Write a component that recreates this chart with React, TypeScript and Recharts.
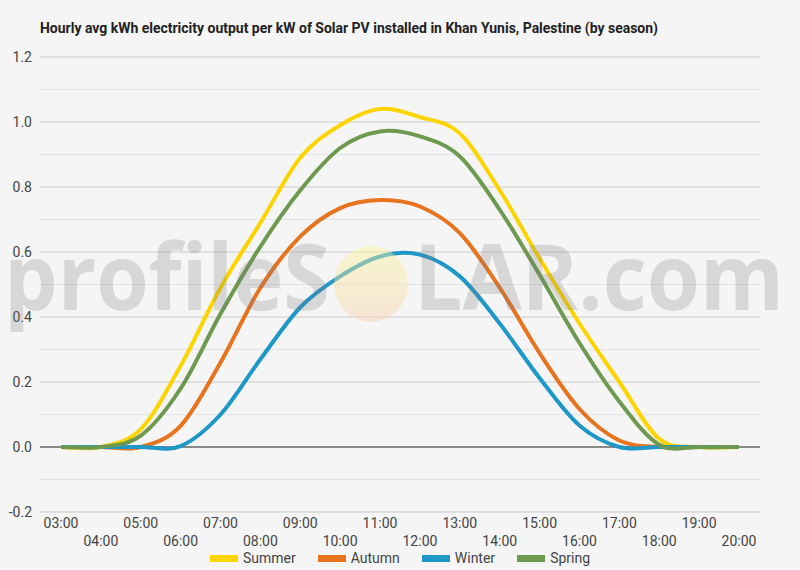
import React from "react";
import { CartesianGrid, Line, LineChart, XAxis, YAxis } from "recharts";

const hours = [
  "03:00", "04:00", "05:00", "06:00", "07:00", "08:00", "09:00", "10:00", "11:00",
  "12:00", "13:00", "14:00", "15:00", "16:00", "17:00", "18:00", "19:00", "20:00",
];

const summer = [0, 0, 0.055, 0.25, 0.49, 0.69, 0.89, 0.99, 1.04, 1.015, 0.965, 0.79, 0.58, 0.38, 0.2, 0.025, 0, 0];
const autumn = [0, 0, 0, 0.065, 0.26, 0.49, 0.648, 0.735, 0.76, 0.74, 0.658, 0.49, 0.289, 0.117, 0.02, 0, 0, 0];
const winter = [0, 0, 0, 0.003, 0.1, 0.27, 0.43, 0.525, 0.586, 0.592, 0.525, 0.38, 0.212, 0.066, 0, 0, 0, 0];
const spring = [0, 0, 0.035, 0.18, 0.41, 0.617, 0.79, 0.92, 0.971, 0.956, 0.894, 0.73, 0.53, 0.32, 0.14, 0.007, 0, 0];

const yTicks = [-0.2, 0, 0.2, 0.4, 0.6, 0.8, 1.0, 1.2];
const minorGrid = [-0.1, 0.1, 0.3, 0.5, 0.7, 0.9, 1.1];

const seriesList = [
  { key: "summer", name: "Summer", color: "#fdd400" },
  { key: "autumn", name: "Autumn", color: "#e8731f" },
  { key: "winter", name: "Winter", color: "#1f97c7" },
  { key: "spring", name: "Spring", color: "#6e9a50" },
];

const chartData = hours.map((hour, i) => ({
  hour,
  summer: summer[i],
  autumn: autumn[i],
  winter: winter[i],
  spring: spring[i],
}));

// smooth like the source chart: uniform catmull-rom, overshoots a little near zero
const catmullRom = (context: any) => {
  let pts: [number, number][] = [];
  return {
    areaStart() {},
    areaEnd() {},
    lineStart() {
      pts = [];
    },
    point(x: number, y: number) {
      pts.push([+x, +y]);
    },
    lineEnd() {
      const n = pts.length;
      if (!n) return;
      context.moveTo(pts[0][0], pts[0][1]);
      for (let i = 0; i < n - 1; i++) {
        const p0 = pts[Math.max(i - 1, 0)];
        const p1 = pts[i];
        const p2 = pts[i + 1];
        const p3 = pts[Math.min(i + 2, n - 1)];
        context.bezierCurveTo(
          p1[0] + (p2[0] - p0[0]) / 6,
          p1[1] + (p2[1] - p0[1]) / 6,
          p2[0] - (p3[0] - p1[0]) / 6,
          p2[1] - (p3[1] - p1[1]) / 6,
          p2[0],
          p2[1],
        );
      }
    },
  };
};

function HourTick(props: any) {
  const { x, y, payload, index } = props;
  const dy = index % 2 === 0 ? 15.5 : 34;
  return (
    <text x={x} y={y + dy} textAnchor="middle" fill="#444" fontSize={14} fontFamily="Roboto">
      {payload.value}
    </text>
  );
}

export default function App() {
  return (
    <div
      style={{
        position: "absolute",
        left: 0,
        top: 0,
        width: 800,
        height: 570,
        background: "#f5f5f5",
        fontFamily: "Roboto",
        overflow: "hidden",
      }}
    >
      <LineChart width={800} height={570} data={chartData} margin={{ top: 57, right: 40, bottom: 10, left: 0 }}>
        <CartesianGrid vertical={false} horizontalValues={minorGrid} stroke="#e4e4e4" fill="none" />
        <CartesianGrid vertical={false} stroke="#cbcbcb" fill="none" />
        <CartesianGrid vertical={false} horizontalValues={[0]} stroke="#333" fill="none" />
        <XAxis
          dataKey="hour"
          interval={0}
          axisLine={false}
          tickLine={false}
          tickSize={0}
          tickMargin={0}
          height={48}
          padding={{ left: 21, right: 21 }}
          tick={<HourTick />}
        />
        <YAxis
          domain={[-0.2, 1.2]}
          ticks={yTicks}
          width={40}
          axisLine={false}
          tickLine={false}
          tickSize={0}
          tickMargin={8}
          tick={{ fill: "#444", fontSize: 14, fontFamily: "Roboto" }}
          tickFormatter={(v: number) => v.toFixed(1)}
        />
        {seriesList.map((s) => (
          <Line
            key={s.key}
            dataKey={s.key}
            name={s.name}
            type={catmullRom as any}
            stroke={s.color}
            strokeWidth={4}
            dot={false}
            activeDot={false}
            isAnimationActive={false}
          />
        ))}
      </LineChart>

      <svg
        width={800}
        height={570}
        style={{ position: "absolute", left: 0, top: 0, pointerEvents: "none" }}
      >
        <defs>
          <linearGradient id="sunFill" x1="0" x2="0" y1="0" y2="1">
            <stop offset="0%" stopColor="#fbf59a" stopOpacity={0.45} />
            <stop offset="100%" stopColor="#f6cfae" stopOpacity={0.45} />
          </linearGradient>
        </defs>
        <text
          x={40}
          y={33}
          fontFamily="Roboto"
          fontWeight={700}
          fontSize={14.5}
          fill="#222"
          textLength={618}
          lengthAdjust="spacingAndGlyphs"
        >
          Hourly avg kWh electricity output per kW of Solar PV installed in Khan Yunis, Palestine (by season)
        </text>
        <text
          x={4}
          y={310}
          fontFamily="Open Sans"
          fontWeight={700}
          fontSize={92}
          fill="rgba(120,120,120,0.24)"
          textLength={326}
          lengthAdjust="spacingAndGlyphs"
        >
          profileS
        </text>
        <ellipse cx={371} cy={284} rx={37} ry={38} fill="url(#sunFill)" />
        <text
          x={414}
          y={310}
          fontFamily="Open Sans"
          fontWeight={700}
          fontSize={92}
          fill="rgba(120,120,120,0.24)"
          textLength={370}
          lengthAdjust="spacingAndGlyphs"
        >
          LAR.com
        </text>
      </svg>

      <div
        style={{
          position: "absolute",
          left: 0,
          top: 549,
          width: 800,
          display: "flex",
          justifyContent: "center",
          alignItems: "center",
          fontSize: 14,
          color: "#444",
          lineHeight: "18px",
        }}
      >
        {seriesList.map((s) => (
          <div key={s.key} style={{ display: "flex", alignItems: "center", margin: "0 11px" }}>
            <span style={{ display: "inline-block", width: 28, height: 7, background: s.color, marginRight: 5 }} />
            <span>{s.name}</span>
          </div>
        ))}
      </div>
    </div>
  );
}
